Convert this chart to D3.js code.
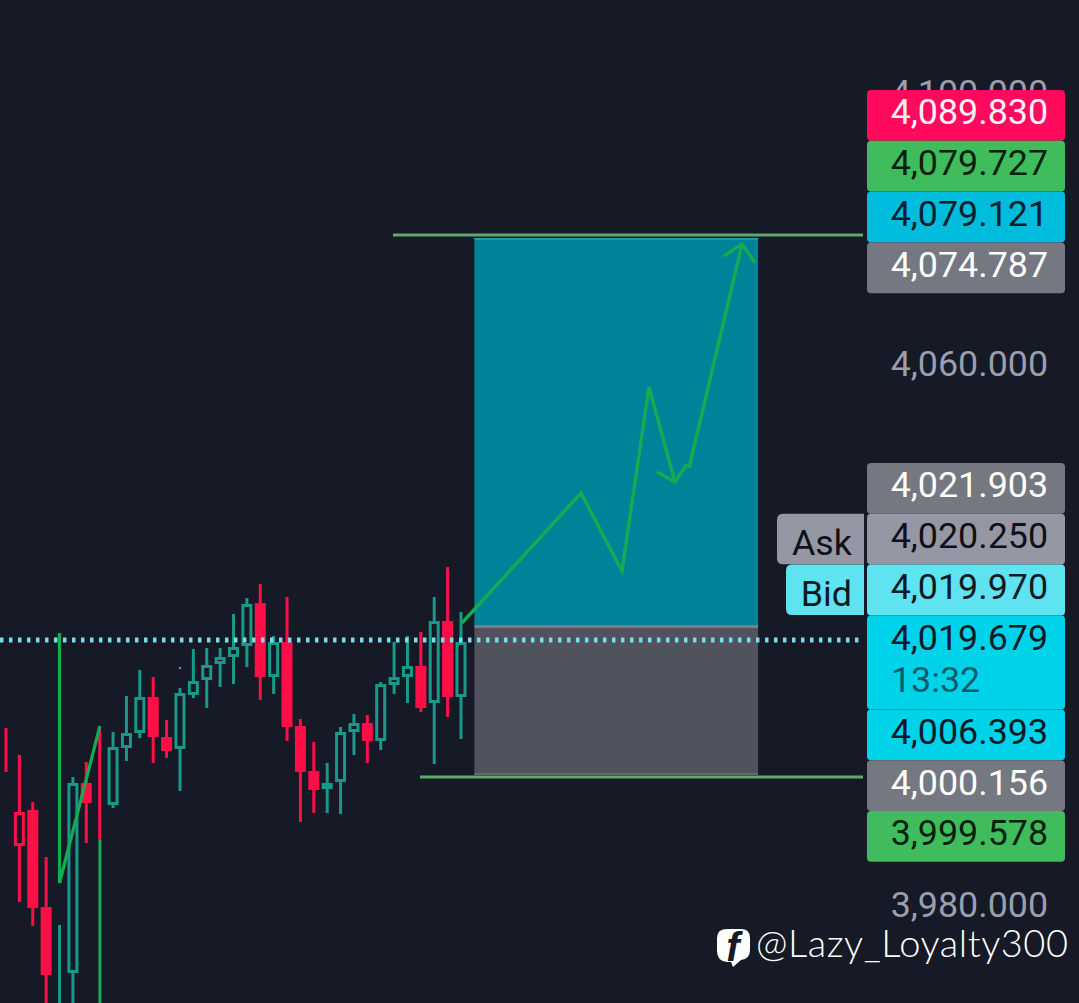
<!DOCTYPE html>
<html>
<head>
<meta charset="utf-8">
<script src="https://cdn.jsdelivr.net/npm/d3@7/dist/d3.min.js"></script>
<style>
html,body{margin:0;padding:0;background:#151a26;overflow:hidden}
svg{display:block}
text{font-family:Roboto,sans-serif}
</style>
</head>
<body>
<svg id="c" width="1079" height="1003"></svg>
<script>
// ---- data ----
const highs  = [4006.32,4002.33,3995.38,3987.25,3977.19,3999.07,4001.29,4006.32,4005.73,4011.05,4014.90,4013.86,4007.50,4012.23,4018.00,4018.15,4018.15,4023.18,4025.54,4027.61,4019.92,4025.69,4007.65,4004.25,4001.15,4006.47,4008.39,4008.24,4013.12,4019.04,4019.92,4020.52,4025.69,4030.13,4023.47];
const lows   = [3999.81,3980.59,3977.04,3964.62,3964.62,3964.62,3989.32,3989.76,3994.49,4001.44,4004.84,4001.15,4001.88,3997.00,4010.76,4009.28,4012.38,4012.83,4015.34,4010.46,4011.35,4004.40,3992.42,3993.75,3993.75,3993.60,4002.33,4001.15,4003.07,4011.35,4010.02,4008.69,4001.00,4007.95,4004.69];
const opens  = [4001.44,3993.90,3994.20,3979.85,3970.24,3970.09,3998.19,3995.38,3994.93,4003.36,4005.58,4010.90,4004.99,4003.22,4011.20,4013.42,4015.78,4016.82,4018.45,4024.80,4013.86,4019.04,4006.62,3999.96,3997.30,3998.34,4005.73,4007.06,4004.40,4012.68,4013.86,4015.49,4010.02,4022.14,4010.90];
const closes = [4001.44,3988.87,3979.70,3969.80,3970.24,3998.19,3995.23,3995.38,4003.51,4005.58,4010.90,4004.99,4002.92,4011.50,4013.27,4015.64,4016.82,4018.30,4024.66,4013.86,4019.04,4006.47,3999.81,3997.15,3998.19,4005.73,4007.06,4004.40,4012.83,4013.86,4015.49,4009.28,4022.14,4010.90,4019.04];
const kinds  = ["red","redHollow","red","red","teal","teal","red","red","teal","teal","teal","red","red","teal","teal","teal","teal","teal","teal","red","teal","red","red","red","teal","teal","teal","red","teal","teal","teal","red","teal","red","teal"];

const axisTicks = [4100, 4060, 3980];
const lastPriceLine = 4019.33;
const tpLine = 4079.22, slLine = 3999.07;
const boxTop = 4078.78, boxEntry = 4021.55, boxBottom = 3999.37;
const boxStartBar = 35, boxEndBar = 56.2;

// drawn arrow, [bar, price]
const arrowMain  = [[34.07,4021.85],[42.97,4041.07],[46.03,4029.54],[48.05,4056.74],[49.99,4042.70]];
const arrowKink  = [[48.65,4044.17],[49.99,4042.70],[50.89,4045.36]];
const arrowRise  = [[51.04,4044.77],[55.00,4077.89]];
const arrowHead  = [[53.65,4076.12],[55.00,4077.89],[55.97,4075.08]];
const leftZigzag = [[4.0,4020.37],[4.0,3983.40],[7.02,4006.62]];
const leftVertical = [[7.02,3989.76],[7.02,3964.0]];

const upperTags = ["4,089.830","4,079.727","4,079.121","4,074.787"];
const upperTagKinds = ["pink","green","blue","grey"];
const lowerTags = ["4,021.903","4,020.250","4,019.970","4,019.679","4,006.393","4,000.156","3,999.578"];
const lowerTagKinds = ["grey","ask","bid","last","last","grey","green"];
const countdown = "13:32";
const sideTags = [{text:"Ask",row:1,kind:"ask",width:87},{text:"Bid",row:2,kind:"bid",width:78}];
const watermark = "@Lazy_Loyalty300";

// ---- scales ----
const y = d3.scaleLinear().domain([3980,4060]).range([906,365]);
const x = d3.scaleLinear().domain([0,34]).range([6,461]);
const svg = d3.select("#c");
const BG = "#151a26", RED = "#ff0f47", TEAL = "#18998a", GREEN = "#12ad52", LINE = "#5fa96c";

svg.append("rect").attr("width",1079).attr("height",1003).attr("fill",BG);

// axis labels
const axis = d3.axisRight(y).tickValues(axisTicks).tickSize(0).tickPadding(0).tickFormat(d3.format(",.3f"));
const ag = svg.append("g").attr("transform","translate(1048,0)").call(axis);
ag.select(".domain").remove();
ag.selectAll("text").attr("text-anchor","end").attr("x",0).attr("dy","0.29em")
  .attr("fill","#9a9eae").style("font-size","35.8px").style("font-family","Roboto");

// position boxes
const boxX = x(boxStartBar), boxW = x(boxEndBar)-x(boxStartBar);
svg.append("rect").attr("x",boxX).attr("width",boxW).attr("y",y(boxTop)).attr("height",y(boxEntry)-y(boxTop)).attr("fill","#008399");
svg.append("rect").attr("x",boxX).attr("width",boxW).attr("y",y(boxTop)).attr("height",2).attr("fill","#1a9cb0");
svg.append("rect").attr("x",boxX).attr("width",boxW).attr("y",y(boxEntry)).attr("height",y(boxBottom)-y(boxEntry)).attr("fill","#50525e");
svg.append("rect").attr("x",boxX).attr("width",boxW).attr("y",y(boxEntry)).attr("height",3).attr("fill","#7b7d88");
svg.append("rect").attr("x",boxX).attr("width",boxW).attr("y",y(boxBottom)-2).attr("height",2).attr("fill","#666a66");

// horizontal levels
const hLine = (v,b0,b1)=>svg.append("line").attr("x1",x(b0)).attr("x2",x(b1)).attr("y1",y(v)).attr("y2",y(v)).attr("stroke",LINE).attr("stroke-width",3);
hLine(tpLine,28.92,64.04);
hLine(slLine,30.94,64.04);

// green vertical under candles
const lineGen = d3.line().x(d=>x(d[0])).y(d=>y(d[1]));
const drawPath = (pts,w)=>svg.append("path").attr("d",lineGen(pts)).attr("fill","none").attr("stroke",GREEN).attr("stroke-width",w).attr("stroke-linejoin","miter");
drawPath(leftVertical,3);

// candles
const colorOf = k=>k==="teal"?TEAL:RED;
const cg = svg.append("g");
const idx = d3.range(highs.length);
cg.selectAll("line").data(idx).join("line")
  .attr("x1",i=>x(i)).attr("x2",i=>x(i)).attr("y1",i=>y(highs[i])).attr("y2",i=>y(lows[i]))
  .attr("stroke",i=>colorOf(kinds[i])).attr("stroke-width",3);
cg.selectAll("rect").data(idx).join("rect")
  .attr("x",i=>x(i)-4).attr("width",8)
  .attr("y",i=>y(Math.max(opens[i],closes[i]))+1.5)
  .attr("height",i=>Math.max(0,Math.abs(y(opens[i])-y(closes[i]))-3))
  .attr("fill",i=>kinds[i]==="red"?RED:BG)
  .attr("stroke",i=>colorOf(kinds[i])).attr("stroke-width",3);
svg.append("circle").attr("cx",x(13)).attr("cy",y(4015.19)).attr("r",1.2).attr("fill","#7f8f88");

// drawn lines
drawPath(leftZigzag,3.2);
drawPath(arrowMain,3.4);
drawPath(arrowKink,3.4);
drawPath(arrowRise,3.4);
drawPath(arrowHead,3.4);

// dotted price line
svg.append("line").attr("x1",x(-0.45)).attr("x2",x(63.82)).attr("y1",y(lastPriceLine)).attr("y2",y(lastPriceLine))
  .attr("stroke","#78dde8").attr("stroke-width",5).attr("stroke-dasharray","3.5 5.5");

// price tags
const tagStyle = {
  pink:{fill:"#ff0a5c",text:"#fdf0f6"}, green:{fill:"#40bc5c",text:"#06200f"}, blue:{fill:"#00bcdc",text:"#07202e"},
  grey:{fill:"#757781",text:"#ffffff"}, ask:{fill:"#9598a4",text:"#0d111a"}, bid:{fill:"#5fe3f0",text:"#0d1a24"},
  last:{fill:"#00d2ea",text:"#0a1a28"}
};
const TAG_X = 867, TAG_W = 198, TAG_H = 50.8, TXT_X = 1048, FS = 35.8;
const tg = svg.append("g");
function tag(tagTop,h,kind,label){
  tg.append("rect").attr("x",TAG_X).attr("y",tagTop).attr("width",TAG_W).attr("height",h).attr("rx",4).attr("fill",tagStyle[kind].fill);
  tg.append("text").attr("x",TXT_X).attr("y",tagTop+34.3).attr("text-anchor","end").attr("fill",tagStyle[kind].text)
    .style("font-size",FS+"px").text(label);
}
upperTags.forEach((t,i)=>tag(90+i*TAG_H,TAG_H,upperTagKinds[i],t));
let cursorY = 463;
const lowerTops = [];
lowerTags.forEach((t,i)=>{
  const h = t==="4,019.679" ? 94 : TAG_H;
  lowerTops.push(cursorY);
  tag(cursorY,h,lowerTagKinds[i],t);
  if(t==="4,019.679"){
    tg.append("text").attr("x",891).attr("y",cursorY+77).attr("fill","#0a5a6c").style("font-size",FS+"px").text(countdown);
  }
  cursorY += h;
});
// side tags (Ask / Bid)
sideTags.forEach(s=>{
  const t = lowerTops[s.row], r = 6, l = 864-s.width, rr = 864;
  tg.append("path").attr("d",`M${rr},${t}H${l+r}Q${l},${t} ${l},${t+r}V${t+TAG_H-r-0.4}Q${l},${t+TAG_H-0.4} ${l+r},${t+TAG_H-0.4}H${rr}Z`)
    .attr("fill",tagStyle[s.kind].fill);
  tg.append("text").attr("x",852).attr("y",t+41).attr("text-anchor","end").attr("fill",tagStyle[s.kind].text)
    .style("font-size",FS+"px").text(s.text);
});

// watermark
const wm = svg.append("g");
wm.append("path").attr("d","M727,929H741Q750,929 750,938V950Q750,959 741,960L733,967L731,962H727Q717,961 717,951V938Q717,929 727,929Z").attr("fill","#ffffff");
wm.append("text").attr("x",733).attr("y",961).attr("text-anchor","middle").attr("fill",BG)
  .style("font-family","'Liberation Sans'").style("font-weight","700").style("font-style","italic").style("font-size","40px").text("f");
wm.append("text").attr("x",756).attr("y",957).attr("fill","#ffffff")
  .style("font-family","Lato").style("font-weight","300").style("font-size","38px").attr("textLength",312).attr("lengthAdjust","spacing").text(watermark);
</script>
</body>
</html>
